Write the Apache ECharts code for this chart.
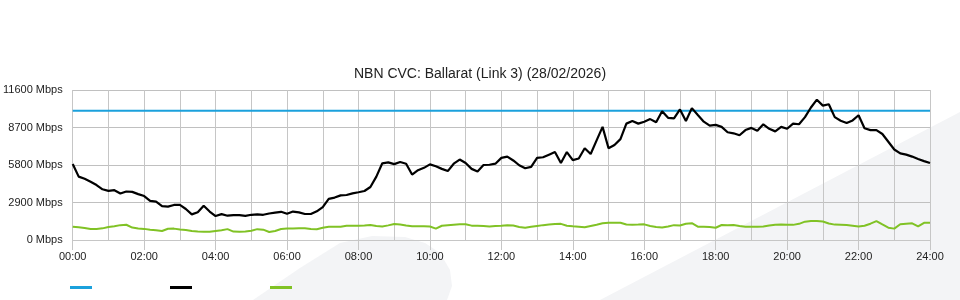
<!DOCTYPE html>
<html>
<head>
<meta charset="utf-8">
<script src="https://cdn.jsdelivr.net/npm/echarts@6/dist/echarts.min.js"></script>
<style>html,body{margin:0;padding:0;background:#fff}#c{width:960px;height:300px}</style>
</head>
<body>
<div id="c"></div>
<script>
// Title and axis
const chartTitle = 'NBN CVC: Ballarat (Link 3) (28/02/2026)';
const yTicks = [0, 2900, 5800, 8700, 11600];
const xTickLabels = ['00:00','02:00','04:00','06:00','08:00','10:00','12:00','14:00','16:00','18:00','20:00','22:00','24:00'];
const stepMinutes = 10;

// Capacity (Mbps), constant across the day
const capacityMbps = 10000;

// Download traffic (Mbps), one value per 10 minutes from 00:00 to 24:00
const downloadMbps = [
  5870,4900,4730,4510,4250,3920,3800,3850,3600,3750,
  3720,3550,3400,3020,2970,2620,2580,2710,2710,2400,
  1980,2150,2650,2200,1850,2000,1880,1930,1920,1870,
  1950,1980,1950,2050,2120,2180,2030,2200,2140,2010,
  2010,2220,2550,3180,3280,3450,3480,3610,3690,3790,
  4100,4900,5930,6000,5870,6030,5900,5060,5400,5580,
  5850,5700,5500,5330,5900,6220,5950,5500,5300,5800,
  5820,5900,6350,6450,6150,5780,5550,5650,6350,6400,
  6600,6800,5950,6800,6180,6300,7100,6650,7700,8750,
  7100,7350,7800,9000,9200,9000,9150,9350,9100,9950,
  9450,9400,10100,9200,10200,9670,9150,8850,8900,8750,
  8330,8250,8100,8500,8670,8450,8950,8600,8400,8750,
  8600,9000,8950,9500,10250,10850,10390,10500,9500,9220,
  9050,9250,9650,8640,8500,8500,8200,7600,7000,6700,
  6600,6450,6270,6100,5950
];

// Upload traffic (Mbps), one value per 10 minutes
const uploadMbps = [
  1030,980,930,850,860,900,1000,1060,1150,1180,
  960,890,860,800,760,700,870,880,820,770,
  700,660,640,640,700,760,840,650,640,660,
  720,840,800,620,700,850,880,890,900,900,
  860,830,950,1030,1030,1030,1100,1110,1110,1130,
  1160,1080,1050,1130,1230,1190,1120,1060,1060,1060,
  1040,880,1100,1140,1180,1210,1220,1110,1110,1080,
  1040,1080,1100,1140,1120,1010,950,1020,1090,1150,
  1190,1230,1250,1100,1060,1030,980,1080,1180,1290,
  1340,1340,1340,1200,1180,1190,1210,1080,1010,970,
  1050,1150,1120,1250,1300,1030,1030,1000,950,1160,
  1140,1160,1080,1030,1030,1030,1050,1120,1180,1190,
  1170,1170,1250,1420,1470,1470,1430,1280,1190,1180,
  1160,1100,1040,1100,1260,1460,1200,950,880,1220,
  1260,1290,1050,1330,1340
];

const seriesNames = ['Capacity', 'Download', 'Upload'];
const seriesColors = ['#1ba1dc', '#000000', '#80c225'];

const toPairs = arr => arr.map((v, i) => [i * stepMinutes, v]);

const chart = echarts.init(document.getElementById('c'), null, {renderer: 'canvas'});
chart.setOption({
  animation: false,
  backgroundColor: '#ffffff',
  textStyle: {fontFamily: '"Liberation Sans", Arial, sans-serif'},
  title: {
    text: chartTitle,
    left: 'center',
    top: 62,
    textStyle: {fontSize: 14, fontWeight: 'normal', color: '#222', fontFamily: '"Liberation Sans", Arial, sans-serif'}
  },
  graphic: [
    {type: 'polygon', z: -10, silent: true,
      shape: {points: [[253,300],[300,268],[340,243],[372,236],[405,237],[425,243],[440,253],[450,270],[452,286],[447,300]]},
      style: {fill: '#f3f4f6'}},
    {type: 'polygon', z: -10, silent: true,
      shape: {points: [[600,300],[960,112],[960,300]]},
      style: {fill: '#f3f4f6'}}
  ],
  legend: {
    left: 65,
    top: 281,
    itemWidth: 22,
    itemHeight: 3,
    itemGap: 78,
    icon: 'rect',
    data: seriesNames,
    formatter: () => '',
    textStyle: {fontSize: 11}
  },
  grid: {left: 70, right: 30, top: 90, bottom: 60, containLabel: false},
  xAxis: {
    type: 'value',
    min: 0,
    max: 1440,
    interval: 120,
    axisLine: {show: true, lineStyle: {color: '#c6c6c6', width: 1}},
    axisTick: {show: true, length: 10, lineStyle: {color: '#c6c6c6'}},
    axisLabel: {
      color: '#222', fontSize: 11, margin: 11,
      formatter: v => xTickLabels[Math.round(v / 120)]
    },
    splitLine: {show: true, lineStyle: {color: '#c6c6c6', width: 1}},
    minorTick: {show: false, splitNumber: 2},
    minorSplitLine: {show: true, lineStyle: {color: '#c6c6c6', width: 1}}
  },
  yAxis: {
    type: 'value',
    min: yTicks[0],
    max: yTicks[yTicks.length - 1],
    interval: yTicks[1] - yTicks[0],
    axisLine: {show: false},
    axisTick: {show: false},
    axisLabel: {color: '#222', fontSize: 11, margin: 10, formatter: v => v + ' Mbps'},
    splitLine: {show: true, lineStyle: {color: '#c0c0c0', width: 1}}
  },
  series: [
    {name: seriesNames[0], type: 'line', showSymbol: false, color: seriesColors[0],
      lineStyle: {width: 2, color: seriesColors[0]},
      data: [[0, capacityMbps], [1440, capacityMbps]]},
    {name: seriesNames[1], type: 'line', showSymbol: false, color: seriesColors[1],
      lineStyle: {width: 2.2, color: seriesColors[1]},
      data: toPairs(downloadMbps)},
    {name: seriesNames[2], type: 'line', showSymbol: false, color: seriesColors[2],
      lineStyle: {width: 2, color: seriesColors[2]},
      data: toPairs(uploadMbps)}
  ]
});
</script>
</body>
</html>
